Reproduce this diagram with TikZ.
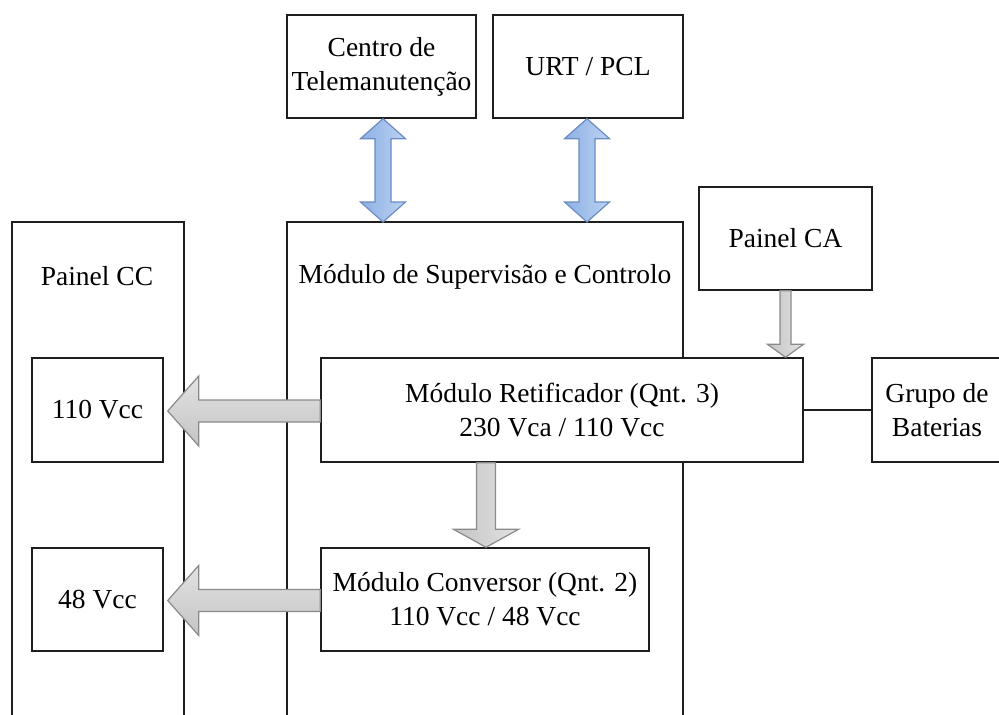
\documentclass[tikz,border=0pt]{standalone}
\usepackage{fontspec}
\setmainfont{Liberation Serif}
\usetikzlibrary{calc}

\definecolor{edge}{HTML}{1E1E1E}
\definecolor{bluefillA}{HTML}{8DB0E4}
\definecolor{bluefillB}{HTML}{BCD2F2}
\definecolor{blueline}{HTML}{6A8CC2}
\definecolor{grayfillA}{HTML}{C4C4C4}
\definecolor{grayfillB}{HTML}{E2E2E2}
\definecolor{grayline}{HTML}{8A8A8A}

% single block arrow: #1 style, #2 start, #3 tip, #4 shaft half width,
% #5 head half width, #6 head length
\newcommand\blockarrow[6]{%
  \coordinate (ba-s) at (#2);
  \coordinate (ba-e) at (#3);
  \coordinate (ba-h) at ($(ba-e)!#6!(ba-s)$);
  \path[#1] ($(ba-s)!#4!90:(ba-e)$) -- ($(ba-h)!#4!90:(ba-e)$)
    -- ($(ba-h)!#5!90:(ba-e)$) -- (ba-e) -- ($(ba-h)!#5!-90:(ba-e)$)
    -- ($(ba-h)!#4!-90:(ba-e)$) -- ($(ba-s)!#4!-90:(ba-e)$) -- cycle;
}
% double block arrow, same arguments
\newcommand\dblockarrow[6]{%
  \coordinate (da-s) at (#2);
  \coordinate (da-e) at (#3);
  \coordinate (da-a) at ($(da-s)!#6!(da-e)$);
  \coordinate (da-b) at ($(da-e)!#6!(da-s)$);
  \path[#1] (da-s) -- ($(da-a)!#5!90:(da-e)$) -- ($(da-a)!#4!90:(da-e)$)
    -- ($(da-b)!#4!90:(da-e)$) -- ($(da-b)!#5!90:(da-e)$) -- (da-e)
    -- ($(da-b)!#5!-90:(da-e)$) -- ($(da-b)!#4!-90:(da-e)$)
    -- ($(da-a)!#4!-90:(da-e)$) -- ($(da-a)!#5!-90:(da-e)$) -- cycle;
}

\tikzset{
  box/.style={draw=edge, line width=1.4pt, fill=white, inner sep=0pt,
    align=center, font=\fontsize{27.5}{34}\selectfont},
  label/.style={inner sep=0pt, font=\fontsize{27.5}{34}\selectfont},
  frame/.style={draw=edge, line width=1.4pt},
  bluearrow/.style={draw=blueline, line width=1.2pt, line join=miter,
    left color=bluefillA, right color=bluefillB},
  grayvert/.style={draw=grayline, line width=1.2pt, line join=miter,
    left color=grayfillA, right color=grayfillB},
  grayhoriz/.style={draw=grayline, line width=1.2pt, line join=miter,
    top color=grayfillB, bottom color=grayfillA},
}

\begin{document}
\begin{tikzpicture}[x=1pt, y=-1pt]
  \useasboundingbox (0,0) rectangle (999,715);
  \begin{scope}
  \clip (0,0) rectangle (999,715);

  % open-bottomed panels
  \coordinate (cctop) at (12,222);
  \coordinate (suptop) at (287,222);
  \draw[frame] (12,720) -- (cctop) -- (184,222) -- (184,720);
  \draw[frame] (287,720) -- (suptop) -- (683,222) -- (683,720);
  \node[label] (pcc) at (97,276) {Painel CC};
  \node[label] (sup) at (485,277) {Módulo de Supervisão e Controlo};

  % blocks
  \node[box, minimum width=189pt, minimum height=103pt] (centro) at (381.5,66.5)
    {Centro de\\Telemanutenção};
  \node[box, minimum width=190pt, minimum height=103pt] (urt) at (588,66.5)
    {URT / PCL};
  \node[box, minimum width=173pt, minimum height=103pt] (pca) at (785.5,238.5)
    {Painel CA};
  \node[box, minimum width=131pt, minimum height=104pt] (v110) at (97.5,410)
    {110 Vcc};
  \node[box, minimum width=131pt, minimum height=103pt] (v48) at (97.5,599.5)
    {48 Vcc};
  \node[box, minimum width=482pt, minimum height=104pt] (ret) at (562,410)
    {Módulo Retificador (Qnt. 3)\\230 Vca / 110 Vcc};
  \node[box, minimum width=328pt, minimum height=103pt] (conv) at (485,599.5)
    {Módulo Conversor (Qnt. 2)\\110 Vcc / 48 Vcc};
  \node[box, minimum width=130pt, minimum height=104pt] (bat) at (937,410)
    {Grupo de\\Baterias};

  % battery link
  \draw[frame] (ret.east) -- (bat.west);

  % communication links
  \dblockarrow{bluearrow}{$(centro.south)+(1.5,0)$}{$(centro.south |- suptop)+(1.5,0)$}{8pt}{22.5pt}{20pt}
  \dblockarrow{bluearrow}{$(urt.south)+(-1,0)$}{$(urt.south |- suptop)+(-1,0)$}{8pt}{22.5pt}{20pt}

  % power flow
  \blockarrow{grayvert}{pca.south}{pca.south |- ret.north}{5.5pt}{18pt}{13pt}
  \blockarrow{grayvert}{$(conv.north |- ret.south)+(1,0)$}{$(conv.north)+(1,0)$}{9.5pt}{32.5pt}{18pt}
  \blockarrow{grayhoriz}{$(ret.west)+(0,1)$}{$(v110.east)+(4,1)$}{11pt}{35pt}{31pt}
  \blockarrow{grayhoriz}{$(conv.west)+(0,1)$}{$(v48.east)+(4,1)$}{11pt}{35pt}{31pt}
  \end{scope}
\end{tikzpicture}
\end{document}
